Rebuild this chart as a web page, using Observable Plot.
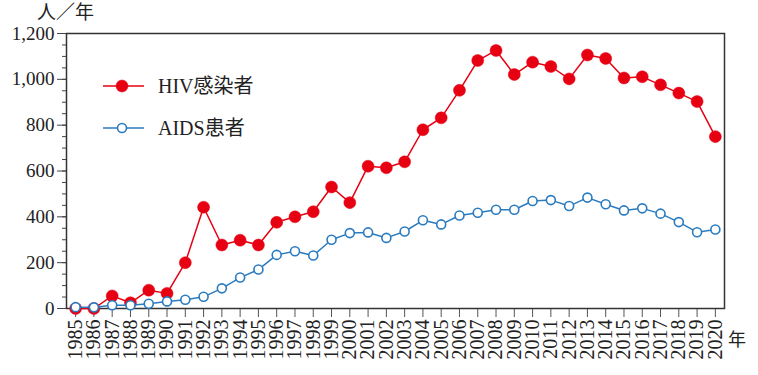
<!DOCTYPE html>
<html><head><meta charset="utf-8">
<script src="https://cdn.jsdelivr.net/npm/d3@7"></script>
<script src="https://cdn.jsdelivr.net/npm/@observablehq/plot@0.6"></script>
<style>body{margin:0;background:#fff}</style>
</head><body><div id="chart"></div>
<script>
const years = [1985,1986,1987,1988,1989,1990,1991,1992,1993,1994,1995,1996,1997,1998,1999,2000,2001,2002,2003,2004,2005,2006,2007,2008,2009,2010,2011,2012,2013,2014,2015,2016,2017,2018,2019,2020];
const hiv = [0,0,55,25,80,66,200,442,277,298,277,376,400,422,530,462,621,614,640,780,832,952,1082,1126,1021,1075,1056,1002,1106,1091,1006,1011,976,940,903,750];
const aids = [6,5,14,14,21,31,38,51,88,135,170,234,250,231,300,329,332,308,336,385,367,406,418,431,431,469,473,447,484,455,428,437,414,377,333,345];
const yTicks = [0,200,400,600,800,1000,1200];
const seriesNames = ["HIV感染者","AIDS患者"];
const yUnit = "人／年";
const xUnit = "年";

const red = "#e60012", blue = "#2b7bbf";
const data = years.map((y,i)=>({year:y, hiv:hiv[i], aids:aids[i]}));
const serif = "'Liberation Serif','Noto Sans CJK JP',serif";

const svg = Plot.plot({
  width:758, height:375,
  marginLeft:66, marginRight:34, marginTop:33, marginBottom:67,
  style:{fontFamily:serif, fontSize:"19px", color:"#222", background:"#fff"},
  x:{domain:[1984.5,2020.5], label:null},
  y:{domain:[0,1200], label:null},
  marks:[
    Plot.axisY({ticks:d3.range(0,1201,50), tickSize:4, tickFormat:()=>"", stroke:"#444", label:null}),
    Plot.axisY({ticks:yTicks, tickSize:9, tickPadding:3, tickFormat:d3.format(","), stroke:"#444", label:null}),
    Plot.axisX({ticks:years, tickSize:9, tickPadding:2, tickRotate:-90, fontSize:20, tickFormat:d=>String(d), stroke:"#555", label:null}),
    Plot.frame({stroke:"#333", strokeWidth:1.5}),
    Plot.line(data,{x:"year", y:"hiv", stroke:red, strokeWidth:1.5}),
    Plot.dot(data,{x:"year", y:"hiv", r:6, fill:red, stroke:red, strokeWidth:0.5}),
    Plot.line(data,{x:"year", y:"aids", stroke:blue, strokeWidth:1.5}),
    Plot.dot(data,{x:"year", y:"aids", r:4.5, fill:"#fff", stroke:blue, strokeWidth:1.6})
  ]
});
document.getElementById("chart").append(svg);

const s = d3.select(svg);
s.append("text").attr("x",37).attr("y",19).attr("text-anchor","start").attr("font-size",19).attr("font-family",serif).attr("fill","#222").text(yUnit);
s.append("text").attr("x",728).attr("y",346).attr("text-anchor","start").attr("font-size",18).attr("font-family",serif).attr("fill","#222").text(xUnit);

const legend = [{name:seriesNames[0], color:red, filled:true, y:86},{name:seriesNames[1], color:blue, filled:false, y:128}];
legend.forEach(d=>{
  const g = s.append("g");
  g.append("line").attr("x1",103).attr("x2",144).attr("y1",d.y).attr("y2",d.y).attr("stroke",d.color).attr("stroke-width",1.5);
  g.append("circle").attr("cx",122).attr("cy",d.y).attr("r",d.filled?6:4.5)
    .attr("fill",d.filled?d.color:"#fff").attr("stroke",d.color).attr("stroke-width",d.filled?0.5:1.6);
  g.append("text").attr("x",158).attr("y",d.y+7).attr("text-anchor","start").attr("font-size",20).attr("font-family",serif).attr("fill","#222").text(d.name);
});
</script></body></html>
